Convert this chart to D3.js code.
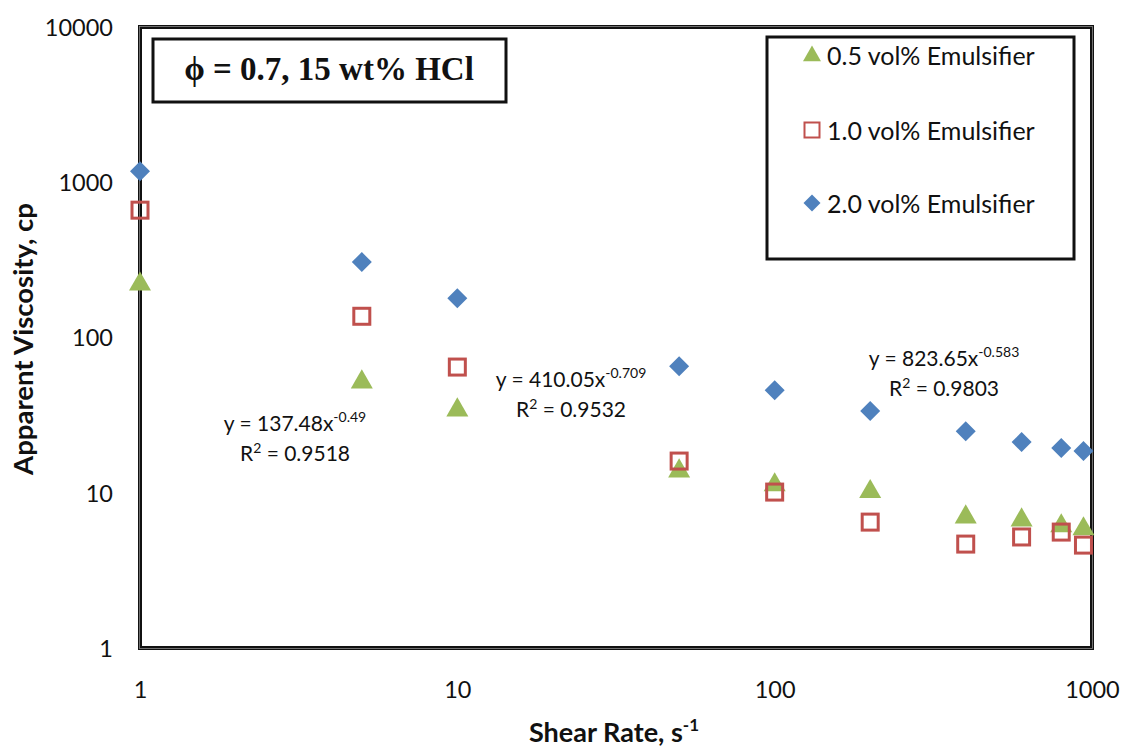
<!DOCTYPE html>
<html>
<head>
<meta charset="utf-8">
<script src="https://cdn.jsdelivr.net/npm/d3@7"></script>
<style>
  html, body { margin: 0; padding: 0; background: #fff; }
  svg { display: block; }
  text { font-family: Lato, "Open Sans", sans-serif; fill: #111; }
</style>
</head>
<body>
<svg id="chart" width="1123" height="748"></svg>
<script>
// Shear rates (s^-1)
const shearRates = [1, 5, 10, 50, 100, 200, 400, 600, 800, 940];
// Apparent viscosity (cp) per emulsifier concentration
const visc05 = [224, 52.4, 34.6, 14.0, 11.4, 10.3, 7.08, 6.77, 6.2, 5.93];
const visc10 = [661, 137, 64.5, 16.0, 10.1, 6.47, 4.67, 5.19, 5.58, 4.6];
const visc20 = [1178, 306, 179, 65.4, 45.8, 33.6, 24.9, 21.2, 19.4, 18.6];
const seriesNames = ["0.5 vol% Emulsifier", "1.0 vol% Emulsifier", "2.0 vol% Emulsifier"];
const xTicks = [1, 10, 100, 1000];
const yTicks = [1, 10, 100, 1000, 10000];
// Power-law trendline labels
const fitLabels = [
  { coef: "y = 137.48x", exp: "-0.49", r2: "0.9518" },
  { coef: "y = 410.05x", exp: "-0.709", r2: "0.9532" },
  { coef: "y = 823.65x", exp: "-0.583", r2: "0.9803" }
];

const svg = d3.select("#chart");
const L = 140, R = 1092, T = 27, B = 648;

const x = d3.scaleLog().domain([1, 1000]).range([L, R]);
const y = d3.scaleLog().domain([1, 10000]).range([B, T]);

const colors = ["#9BBB59", "#C0504D", "#4F81BD"];

// Axes (labels only; frame drawn separately)
const xAxis = d3.axisBottom(x).tickValues(xTicks).tickFormat(d3.format("d")).tickSize(0).tickPadding(0);
const yAxis = d3.axisLeft(y).tickValues(yTicks).tickFormat(d3.format("d")).tickSize(0).tickPadding(0);

const gx = svg.append("g").attr("transform", `translate(0,${B + 50})`).call(xAxis);
gx.select(".domain").remove();
gx.selectAll("text").attr("dy", 0).style("font-size", "23.5px").style("font-family", "Lato, sans-serif").attr("fill", "#111");

const gy = svg.append("g").attr("transform", `translate(${L - 27},0)`).call(yAxis);
gy.select(".domain").remove();
gy.selectAll("text").attr("dy", "0.36em").style("font-size", "23.5px").style("font-family", "Lato, sans-serif").attr("fill", "#111");

// Plot frame: dark outline with a thin light inner line
svg.append("rect").attr("x", L).attr("y", T).attr("width", R - L).attr("height", B - T)
  .attr("fill", "none").attr("stroke", "#111").attr("stroke-width", 4);
svg.append("rect").attr("x", L - 0.5).attr("y", T - 0.5).attr("width", R - L + 1).attr("height", B - T + 1)
  .attr("fill", "none").attr("stroke", "#888").attr("stroke-width", 0.8);

// Axis titles
svg.append("text").attr("x", 614).attr("y", 742).attr("text-anchor", "middle")
  .style("font-size", "27px").style("font-weight", "bold")
  .html('Shear Rate, s<tspan dy="-11" style="font-size:17px">-1</tspan>');
svg.append("text").attr("transform", `translate(33,339) rotate(-90)`).attr("text-anchor", "middle")
  .style("font-size", "27.5px").style("font-weight", "bold").text("Apparent Viscosity, cp");

// Markers
const triangle = d3.symbol().type(d3.symbolTriangle).size(210);
const diamondPath = s => `M0,${-s}L${s},0L0,${s}L${-s},0Z`;

function drawMarker(g, i, cx, cy) {
  if (i === 0) {
    g.append("path").attr("d", triangle()).attr("transform", `translate(${cx},${cy + 1})`).attr("fill", colors[0]);
  } else if (i === 1) {
    g.append("rect").attr("x", cx - 8).attr("y", cy - 8).attr("width", 16).attr("height", 16)
      .attr("fill", "none").attr("stroke", colors[1]).attr("stroke-width", 3);
  } else {
    g.append("path").attr("d", diamondPath(10)).attr("transform", `translate(${cx},${cy})`).attr("fill", colors[2]);
  }
}

const seriesData = [visc05, visc10, visc20];
const gm = svg.append("g");
seriesData.forEach((vals, i) => {
  vals.forEach((v, j) => drawMarker(gm, i, x(shearRates[j]), y(vals[j])));
});

// Trendline equations
const fitPos = [
  { x: 295, y: 431 }, { x: 571, y: 387 }, { x: 944, y: 366 }
];
fitLabels.forEach((f, i) => {
  const p = fitPos[i];
  const t = svg.append("text").attr("x", p.x).attr("y", p.y).attr("text-anchor", "middle").style("font-size", "21px");
  t.append("tspan").text(f.coef);
  t.append("tspan").attr("dy", -9).style("font-size", "14px").text(f.exp);
  const r = svg.append("text").attr("x", p.x).attr("y", p.y + 30).attr("text-anchor", "middle").style("font-size", "21px");
  r.append("tspan").text("R");
  r.append("tspan").attr("dy", -8).style("font-size", "14px").text("2");
  r.append("tspan").attr("dy", 8).text(" = " + f.r2);
});

// Title box
svg.append("rect").attr("x", 153).attr("y", 39).attr("width", 353).attr("height", 63)
  .attr("fill", "#fff").attr("stroke", "#111").attr("stroke-width", 3);
svg.append("text").attr("x", 329).attr("y", 80).attr("text-anchor", "middle")
  .style("font-family", "'Liberation Serif', serif").style("font-weight", "bold").style("font-size", "33px")
  .text("\u03d5 = 0.7, 15 wt% HCl");

// Legend
svg.append("rect").attr("x", 767).attr("y", 37).attr("width", 307).attr("height", 222)
  .attr("fill", "#fff").attr("stroke", "#111").attr("stroke-width", 3);
const legY = [55, 130, 203];
seriesNames.forEach((name, i) => {
  const g = svg.append("g");
  if (i === 0) {
    g.append("path").attr("d", d3.symbol().type(d3.symbolTriangle).size(140)()).attr("transform", `translate(812,${legY[i] + 1})`).attr("fill", colors[0]);
  } else if (i === 1) {
    g.append("rect").attr("x", 804.5).attr("y", legY[i] - 7.5).attr("width", 15).attr("height", 15)
      .attr("fill", "none").attr("stroke", colors[1]).attr("stroke-width", 2);
  } else {
    g.append("path").attr("d", diamondPath(8.5)).attr("transform", `translate(812,${legY[i]})`).attr("fill", colors[2]);
  }
  g.append("text").attr("x", 827).attr("y", legY[i] + 10).style("font-size", "25px").text(name);
});
</script>
</body>
</html>
